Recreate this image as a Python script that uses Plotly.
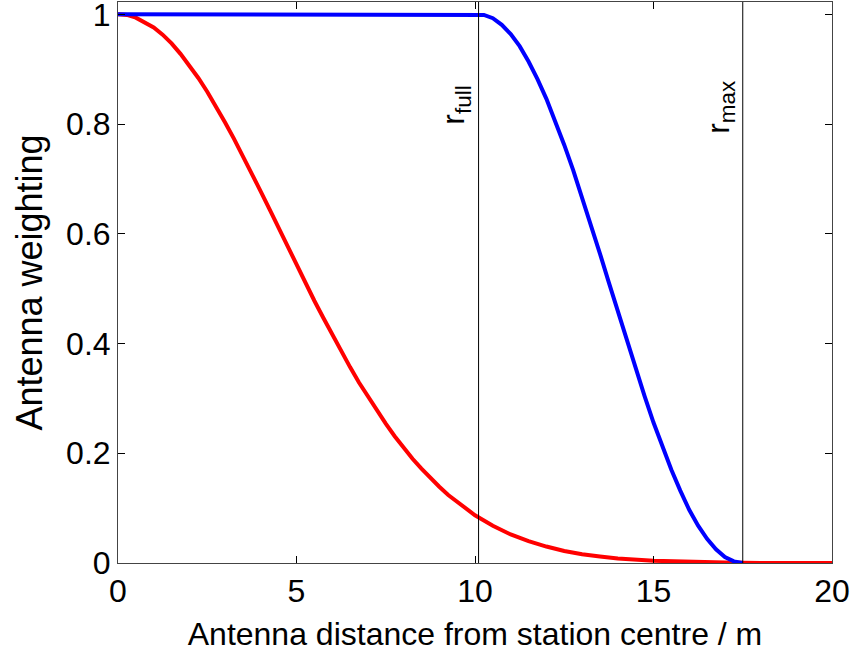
import plotly.graph_objects as go

# Red curve
red_x = [0, 0.25, 0.5, 0.75, 1, 1.25, 1.5, 1.75, 2, 2.25, 2.5, 2.75, 3, 3.25, 3.5, 3.75,
         4, 4.25, 4.5, 4.75, 5, 5.25, 5.5, 5.75, 6, 6.25, 6.5, 6.75, 7, 7.25, 7.5, 7.75,
         8, 8.25, 8.5, 8.75, 9, 9.25, 9.5, 9.75, 10, 10.5, 11, 11.5, 12, 12.5, 13, 13.5,
         14, 15, 16, 17, 18, 20]
red_y = [1.0, 0.999, 0.994, 0.986, 0.976, 0.963, 0.947, 0.928, 0.907, 0.884, 0.859, 0.832,
         0.803, 0.773, 0.742, 0.710, 0.677, 0.644, 0.610, 0.577, 0.543, 0.511, 0.478, 0.447,
         0.416, 0.386, 0.357, 0.329, 0.303, 0.278, 0.254, 0.231, 0.210, 0.190, 0.172, 0.155,
         0.139, 0.124, 0.111, 0.098, 0.087, 0.068, 0.052, 0.040, 0.030, 0.022, 0.016, 0.012,
         0.008, 0.004, 0.002, 0.001, 0.0, 0.0]

# Blue curve
blue_x = [0, 5, 10.1, 10.25, 10.5, 10.75, 11, 11.25, 11.5, 11.75, 12, 12.25, 12.5, 12.75,
          13, 13.25, 13.5, 13.75, 14, 14.25, 14.5, 14.75, 15, 15.25, 15.5, 15.75, 16,
          16.25, 16.5, 16.75, 17, 17.25, 17.5]
blue_y = [1.0, 1.0, 1.0, 0.999, 0.993, 0.981, 0.964, 0.942, 0.914, 0.882, 0.846, 0.806,
          0.762, 0.716, 0.667, 0.616, 0.564, 0.511, 0.458, 0.405, 0.354, 0.304, 0.256,
          0.211, 0.170, 0.132, 0.097, 0.068, 0.044, 0.025, 0.011, 0.003, 0.0]

# Marker lines
r_full = 10.1
r_max = 17.5
marker_labels = ["r<sub>full</sub>", "r<sub>max</sub>"]

x_ticks = [0, 5, 10, 15, 20]
y_ticks = [0, 0.2, 0.4, 0.6, 0.8, 1]

FONT = "Liberation Sans, Arial, Helvetica, sans-serif"

fig = go.Figure()
fig.add_trace(go.Scatter(x=red_x, y=red_y, mode="lines",
                         line=dict(color="#ff0000", width=4),
                         showlegend=False, hoverinfo="skip"))
fig.add_trace(go.Scatter(x=blue_x, y=blue_y, mode="lines",
                         line=dict(color="#0000ff", width=4),
                         showlegend=False, hoverinfo="skip"))

label_yshift = [-3, -12]
for xv, lab, ys in zip([r_full, r_max], marker_labels, label_yshift):
    fig.add_shape(type="line", x0=xv, x1=xv, y0=0, y1=1, yref="paper", xref="x",
                  line=dict(color="black", width=1))
    fig.add_annotation(x=xv, y=0.80, xref="x", yref="y", text=lab, showarrow=False,
                       textangle=-90, xanchor="right", yanchor="bottom", xshift=0,
                       yshift=ys, font=dict(family=FONT, size=32, color="black"))

fig.update_layout(
    width=853, height=657,
    margin=dict(l=118, r=21, t=2, b=94),
    paper_bgcolor="white", plot_bgcolor="white",
    font=dict(family=FONT, size=32, color="black"),
)
fig.update_xaxes(range=[0, 20], tickvals=x_ticks, ticks="inside", ticklen=7,
                 tickcolor="black", showline=True, linecolor="#444", linewidth=1,
                 mirror="ticks", showgrid=False, zeroline=False, automargin=False,
                 ticklabeloverflow="allow",
                 title=dict(text="Antenna distance from station centre / m",
                            font=dict(size=32), standoff=14))
fig.update_yaxes(range=[0, 1.0225], tickvals=y_ticks, ticks="inside", ticklen=7,
                 tickcolor="black", showline=True, linecolor="#444", linewidth=1,
                 mirror="ticks", showgrid=False, zeroline=False, automargin=False,
                 ticklabeloverflow="allow",
                 title=dict(text="Antenna weighting", font=dict(size=36), standoff=12))

fig.write_html("out.html", config={"displayModeBar": False},
               post_script="document.body.style.margin='0';")
